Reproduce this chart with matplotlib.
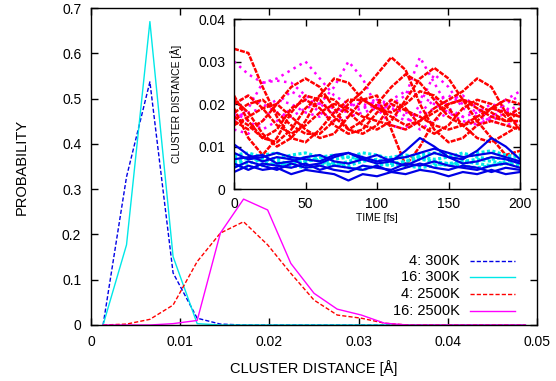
import matplotlib
matplotlib.use("Agg")
import matplotlib.pyplot as plt
import numpy as np

plt.rcParams.update({
    "font.family": ["Liberation Sans", "DejaVu Sans"],
    "font.size": 10,
    "axes.linewidth": 1.0,
    "xtick.direction": "in",
    "ytick.direction": "in",
    "xtick.top": True,
    "ytick.right": True,
})

# ---------------------------------------------------------------------------
# Histogram data (main panel)
# ---------------------------------------------------------------------------
dist = [0.00135, 0.00398, 0.0066, 0.0092, 0.0119, 0.0145, 0.0171, 0.0198,
        0.0224, 0.0250, 0.0276, 0.0303, 0.0329, 0.0355, 0.0382, 0.0408,
        0.0434, 0.0461, 0.0487]
p_4_300 = [0, 0.327, 0.537, 0.115, 0.015, 0.002, 0, 0, 0, 0, 0, 0, 0, 0, 0, 0, 0, 0, 0]
p_16_300 = [0, 0.177, 0.670, 0.151, 0.003, 0, 0, 0, 0, 0, 0, 0, 0, 0, 0, 0, 0, 0, 0]
p_4_2500 = [0, 0.002, 0.0125, 0.044, 0.140, 0.203, 0.228, 0.177, 0.114, 0.055,
            0.022, 0.015, 0.004, 0, 0, 0, 0, 0, 0]
p_16_2500 = [0, 0, 0, 0.003, 0.010, 0.203, 0.278, 0.254, 0.136, 0.070,
             0.035, 0.022, 0.004, 0, 0, 0, 0, 0, 0]

# ---------------------------------------------------------------------------
# Trajectories (inset), sampled every 10 fs
# ---------------------------------------------------------------------------
time_fs = list(range(0, 201, 10))

red_traj = [
    [0.033, 0.032, 0.024, 0.017, 0.012, 0.011, 0.014, 0.018, 0.021, 0.021, 0.019,
     0.017, 0.015, 0.016, 0.018, 0.020, 0.021, 0.020, 0.018, 0.016, 0.016],
    [0.019, 0.012, 0.008, 0.012, 0.018, 0.022, 0.021, 0.017, 0.014, 0.016, 0.020,
     0.024, 0.027, 0.025, 0.021, 0.017, 0.015, 0.016, 0.019, 0.021, 0.020],
    [0.016, 0.014, 0.016, 0.020, 0.024, 0.026, 0.024, 0.019, 0.014, 0.013, 0.015,
     0.020, 0.0185, 0.017, 0.015, 0.014, 0.015, 0.017, 0.019, 0.018, 0.017],
    [0.021, 0.018, 0.013, 0.010, 0.012, 0.016, 0.022, 0.026, 0.025, 0.021, 0.019,
     0.018, 0.020, 0.023, 0.022, 0.019, 0.015, 0.012, 0.011, 0.013, 0.015],
    [0.018, 0.020, 0.021, 0.018, 0.015, 0.013, 0.013, 0.016, 0.020, 0.023, 0.027,
     0.031, 0.028, 0.020, 0.014, 0.011, 0.012, 0.015, 0.016, 0.015, 0.014],
    [0.015, 0.017, 0.019, 0.020, 0.017, 0.014, 0.012, 0.013, 0.017, 0.021, 0.022,
     0.014, 0.0055, 0.010, 0.016, 0.020, 0.021, 0.019, 0.017, 0.016, 0.018],
    [0.017, 0.015, 0.012, 0.011, 0.014, 0.019, 0.022, 0.021, 0.018, 0.015, 0.014,
     0.016, 0.021, 0.026, 0.0285, 0.026, 0.021, 0.016, 0.012, 0.008, 0.009],
    [0.020, 0.022, 0.019, 0.015, 0.013, 0.015, 0.018, 0.020, 0.019, 0.017, 0.016,
     0.015, 0.014, 0.016, 0.019, 0.021, 0.023, 0.026, 0.024, 0.018, 0.014],
    [0.022, 0.016, 0.012, 0.014, 0.019, 0.021, 0.019, 0.015, 0.013, 0.014, 0.018,
     0.021, 0.019, 0.015, 0.013, 0.015, 0.019, 0.021, 0.020, 0.017, 0.019],
]
magenta_traj = [
    [0.030, 0.027, 0.025, 0.026, 0.028, 0.030, 0.026, 0.022, 0.020, 0.019, 0.020,
     0.018, 0.016, 0.018, 0.021, 0.022, 0.020, 0.018, 0.019, 0.021, 0.023],
    [0.016, 0.019, 0.025, 0.0255, 0.025, 0.022, 0.020, 0.024, 0.030, 0.026, 0.019,
     0.015, 0.014, 0.020, 0.027, 0.024, 0.019, 0.017, 0.016, 0.018, 0.020],
    [0.018, 0.016, 0.014, 0.016, 0.019, 0.021, 0.020, 0.019, 0.018, 0.019, 0.021,
     0.020, 0.022, 0.031, 0.025, 0.019, 0.017, 0.018, 0.020, 0.019, 0.017],
    [0.020, 0.022, 0.020, 0.018, 0.017, 0.019, 0.020, 0.018, 0.019, 0.021, 0.020,
     0.019, 0.018, 0.017, 0.019, 0.021, 0.022, 0.019, 0.016, 0.015, 0.016],
    [0.014, 0.013, 0.016, 0.020, 0.023, 0.021, 0.018, 0.016, 0.017, 0.018, 0.019,
     0.020, 0.017, 0.014, 0.016, 0.018, 0.017, 0.015, 0.017, 0.020, 0.022],
    [0.017, 0.018, 0.019, 0.021, 0.020, 0.018, 0.017, 0.018, 0.020, 0.020, 0.019,
     0.021, 0.023, 0.022, 0.020, 0.018, 0.016, 0.015, 0.017, 0.019, 0.018],
]
blue_traj = [
    [0.0105, 0.008, 0.0065, 0.0075, 0.007, 0.0055, 0.006, 0.0075, 0.0085, 0.007, 0.006,
     0.0065, 0.009, 0.012, 0.010, 0.0075, 0.007, 0.009, 0.012, 0.010, 0.007],
    [0.004, 0.0055, 0.0045, 0.005, 0.0035, 0.0045, 0.004, 0.0035, 0.002, 0.0035, 0.003,
     0.004, 0.0035, 0.0045, 0.004, 0.003, 0.004, 0.0035, 0.0045, 0.0035, 0.004],
    [0.006, 0.0045, 0.006, 0.0055, 0.005, 0.006, 0.0045, 0.0055, 0.005, 0.0045, 0.0055,
     0.004, 0.005, 0.006, 0.005, 0.0045, 0.0055, 0.005, 0.004, 0.005, 0.0045],
    [0.007, 0.0075, 0.008, 0.006, 0.0065, 0.0075, 0.008, 0.0065, 0.006, 0.007, 0.008,
     0.0065, 0.0055, 0.007, 0.0085, 0.0075, 0.006, 0.0065, 0.0075, 0.007, 0.006],
    [0.005, 0.0065, 0.0055, 0.0045, 0.006, 0.005, 0.0055, 0.0045, 0.004, 0.0055, 0.005,
     0.0045, 0.006, 0.0055, 0.0065, 0.0055, 0.005, 0.0045, 0.0055, 0.006, 0.005],
    [0.0085, 0.007, 0.0075, 0.0085, 0.0075, 0.007, 0.0065, 0.008, 0.0085, 0.0075, 0.0065,
     0.007, 0.0075, 0.0085, 0.0095, 0.0085, 0.0075, 0.008, 0.0085, 0.0075, 0.0065],
]
cyan_traj = [
    [0.008, 0.0085, 0.0075, 0.007, 0.008, 0.0085, 0.0075, 0.007, 0.0075, 0.0085, 0.008,
     0.007, 0.0075, 0.008, 0.0085, 0.008, 0.0075, 0.0085, 0.009, 0.008, 0.0075],
    [0.0065, 0.006, 0.007, 0.0065, 0.006, 0.0065, 0.007, 0.006, 0.0055, 0.0065, 0.007,
     0.006, 0.0065, 0.007, 0.0065, 0.006, 0.0065, 0.007, 0.0065, 0.006, 0.0065],
    [0.0055, 0.005, 0.0055, 0.006, 0.0055, 0.005, 0.0055, 0.006, 0.005, 0.0045, 0.0055,
     0.006, 0.0055, 0.005, 0.0055, 0.006, 0.0055, 0.005, 0.0055, 0.006, 0.0055],
    [0.0075, 0.007, 0.008, 0.0085, 0.007, 0.0065, 0.0075, 0.008, 0.0075, 0.007, 0.0065,
     0.0075, 0.008, 0.0075, 0.007, 0.0075, 0.0085, 0.0075, 0.007, 0.0075, 0.008],
    [0.006, 0.0075, 0.0065, 0.0055, 0.0065, 0.0075, 0.0065, 0.0055, 0.0065, 0.0075, 0.006,
     0.0055, 0.0065, 0.0075, 0.006, 0.0055, 0.0065, 0.006, 0.0055, 0.0065, 0.007],
]

BLUE = "#0000e6"
CYAN = "#00e8e8"
RED = "#ff0000"
MAGENTA = "#ff00ff"

fig = plt.figure(figsize=(5.56, 3.81), dpi=100)
ax = fig.add_axes([0.1637, 0.147, 0.8022, 0.832])

series = [
    ("4: 300K", p_4_300, BLUE, (0, (3, 1.5))),
    ("16: 300K", p_16_300, CYAN, "-"),
    ("4: 2500K", p_4_2500, RED, (0, (3, 1.5))),
    ("16: 2500K", p_16_2500, MAGENTA, "-"),
]
for label, vals, color, ls in series:
    ax.plot(dist, vals, color=color, ls=ls, lw=1.0)

ax.set_xlim(0, 0.05)
ax.set_ylim(0, 0.7)
ax.set_xticks(np.arange(0, 0.051, 0.01))
ax.set_xticklabels(["0", "0.01", "0.02", "0.03", "0.04", "0.05"])
ax.set_yticks(np.arange(0, 0.71, 0.1))
ax.set_yticklabels(["0", "0.1", "0.2", "0.3", "0.4", "0.5", "0.6", "0.7"])
ax.tick_params(length=5, width=1.0, pad=7, labelsize=10)
ax.set_xlabel("CLUSTER DISTANCE [Å]", fontsize=10.5, labelpad=8)
ax.set_ylabel("PROBABILITY", fontsize=10.5, labelpad=24)

# gnuplot-style legend: right-aligned text, sample line to the right
leg_y = [0.203, 0.150, 0.097, 0.044]
for (label, vals, color, ls), y in zip(series, leg_y):
    ax.text(0.827, y, label, transform=ax.transAxes, ha="right", va="center",
            fontsize=10.5)
    ax.plot([0.850, 0.951], [y, y], transform=ax.transAxes, color=color,
            ls=ls, lw=1.0)

# ---------------------------------------------------------------------------
# Inset
# ---------------------------------------------------------------------------
ins = fig.add_axes([0.4209, 0.5039, 0.5144, 0.4462])
for tr in magenta_traj:
    ins.plot(time_fs, tr, color=MAGENTA, ls=(0, (1, 1.8)), lw=1.8)
for tr in red_traj:
    ins.plot(time_fs, tr, color=RED, ls=(0, (2, 0.5)), lw=1.8)
for tr in cyan_traj:
    ins.plot(time_fs, tr, color=CYAN, ls=(0, (1, 0.8)), lw=2.2)
for tr in blue_traj:
    ins.plot(time_fs, tr, color=BLUE, lw=1.6)

ins.set_xlim(0, 200)
ins.set_ylim(0, 0.04)
ins.set_xticks([0, 50, 100, 150, 200])
ins.set_yticks([0, 0.01, 0.02, 0.03, 0.04])
ins.set_yticklabels(["0", "0.01", "0.02", "0.03", "0.04"])
ins.tick_params(length=5, width=1.0, pad=6, labelsize=10)
ins.set_xlabel("TIME [fs]", fontsize=7.5, labelpad=1)
ins.set_ylabel("CLUSTER DISTANCE [Å]", fontsize=7.5, labelpad=12)

fig.savefig("out.png", dpi=100)
